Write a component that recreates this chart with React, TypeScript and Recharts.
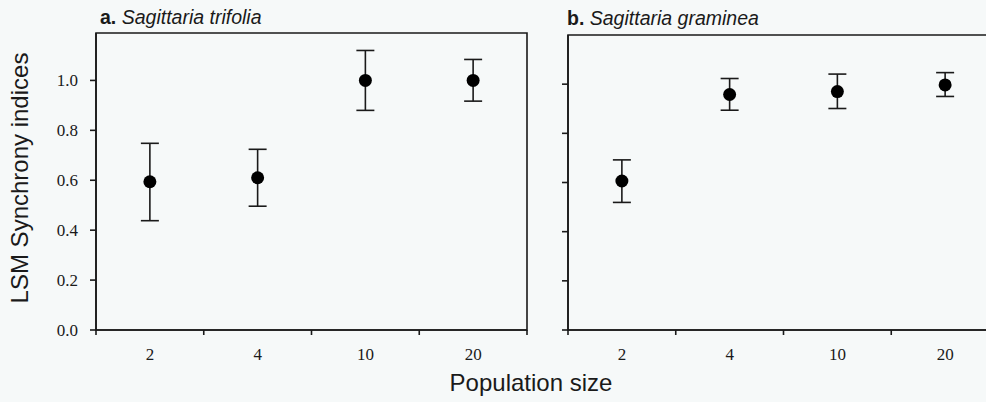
import { ScatterChart, Scatter, XAxis, YAxis, ErrorBar, ReferenceArea } from "recharts";

// population sizes (categories shared by both panels)
const sizes = ["2", "4", "10", "20"];

// a. Sagittaria trifolia
const trifoliaMean = [0.594, 0.61, 1.0, 1.0];
const trifoliaLow = [0.438, 0.496, 0.88, 0.917];
const trifoliaHigh = [0.748, 0.724, 1.12, 1.084];

// b. Sagittaria graminea
const gramineaMean = [0.606, 0.958, 0.97, 0.997];
const gramineaLow = [0.519, 0.894, 0.901, 0.95];
const gramineaHigh = [0.692, 1.023, 1.041, 1.047];

const yTicks = [0, 0.2, 0.4, 0.6, 0.8, 1.0];

const ink = "#1a1a1a";
const bg = "#f6f9f9";
const sans = "'Liberation Sans', Arial, sans-serif";
const serif = "'Liberation Serif', 'Times New Roman', serif";

type Row = { size: string; mean: number; err: [number, number] };

const buildRows = (mean: number[], low: number[], high: number[]): Row[] =>
  sizes.map((size, i) => ({
    size,
    mean: mean[i],
    err: [mean[i] - low[i], high[i] - mean[i]],
  }));

const Dot = (props: any) => <circle cx={props.cx} cy={props.cy} r={6.5} fill="#000" />;

// category label in the band centre, tick marks on the band edges
const SizeTick = (props: any) => {
  const { x, y, payload, index } = props;
  const half = payload.offset ?? 0;
  const last = index === sizes.length - 1;
  return (
    <g>
      <line x1={x - half} x2={x - half} y1={y} y2={y + 5} stroke={ink} strokeWidth={1.6} />
      {last && <line x1={x + half} x2={x + half} y1={y} y2={y + 5} stroke={ink} strokeWidth={1.6} />}
      <text
        x={x}
        y={y + 18}
        dy="0.71em"
        textAnchor="middle"
        fontFamily={serif}
        fontSize={17}
        fill={ink}
      >
        {payload.value}
      </text>
    </g>
  );
};

type PanelProps = {
  rows: Row[];
  width: number;
  yAxisWidth: number;
  top: number;
  right: number;
  yMax: number;
  showYLabels: boolean;
};

const Panel = ({ rows, width, yAxisWidth, top, right, yMax, showYLabels }: PanelProps) => (
  <ScatterChart width={width} height={402} margin={{ top, right, bottom: 0, left: 0 }}>
    <XAxis
      xAxisId="cat"
      dataKey="size"
      type="category"
      scale="band"
      allowDuplicatedCategory={false}
      tickLine={false}
      tickSize={0}
      tickMargin={0}
      height={72}
      tick={<SizeTick />}
      stroke={ink}
      strokeWidth={1.6}
    />
    <YAxis
      yAxisId="val"
      dataKey="mean"
      type="number"
      domain={[0, yMax]}
      ticks={yTicks}
      allowDataOverflow
      width={yAxisWidth}
      tickSize={6}
      tickMargin={12}
      tickFormatter={(v: number) => (showYLabels ? v.toFixed(1) : "")}
      tick={{ fontFamily: serif, fontSize: 17, fill: ink }}
      stroke={ink}
      strokeWidth={1.6}
    />
    {/* frame around the plot area */}
    <ReferenceArea
      xAxisId="cat"
      yAxisId="val"
      y1={0}
      y2={yMax}
      fill="none"
      stroke={ink}
      strokeWidth={1.6}
      ifOverflow="visible"
    />
    <Scatter
      data={rows}
      xAxisId="cat"
      yAxisId="val"
      dataKey="mean"
      shape={Dot}
      isAnimationActive={false}
    >
      <ErrorBar dataKey="err" direction="y" width={9} stroke={ink} strokeWidth={1.6} />
    </Scatter>
  </ScatterChart>
);

export default function App() {
  const trifolia = buildRows(trifoliaMean, trifoliaLow, trifoliaHigh);
  const graminea = buildRows(gramineaMean, gramineaLow, gramineaHigh);

  return (
    <div
      style={{
        position: "absolute",
        left: 0,
        top: 0,
        width: 986,
        height: 402,
        overflow: "hidden",
        background: bg,
      }}
    >
      <div style={{ position: "absolute", left: 0, top: 0 }}>
        <Panel
          rows={trifolia}
          width={540}
          yAxisWidth={96}
          top={33}
          right={13}
          yMax={1.19}
          showYLabels
        />
      </div>
      <div style={{ position: "absolute", left: 480, top: 0 }}>
        <Panel
          rows={graminea}
          width={530}
          yAxisWidth={88}
          top={35}
          right={11}
          yMax={1.2}
          showYLabels={false}
        />
      </div>
      <svg
        width={986}
        height={402}
        style={{ position: "absolute", left: 0, top: 0, pointerEvents: "none" }}
      >
        <text x={100} y={24} fontFamily={sans} fontSize={19.5} fill={ink}>
          <tspan fontWeight="bold">a.</tspan>
          <tspan fontStyle="italic"> Sagittaria trifolia</tspan>
        </text>
        <text x={567} y={25} fontFamily={sans} fontSize={19.5} fill={ink}>
          <tspan fontWeight="bold">b.</tspan>
          <tspan fontStyle="italic"> Sagittaria graminea</tspan>
        </text>
        <text
          transform="translate(28,178) rotate(-90)"
          textAnchor="middle"
          fontFamily={sans}
          fontSize={24}
          fill={ink}
        >
          LSM Synchrony indices
        </text>
        <text x={531} y={391} textAnchor="middle" fontFamily={sans} fontSize={24} fill={ink}>
          Population size
        </text>
      </svg>
    </div>
  );
}
